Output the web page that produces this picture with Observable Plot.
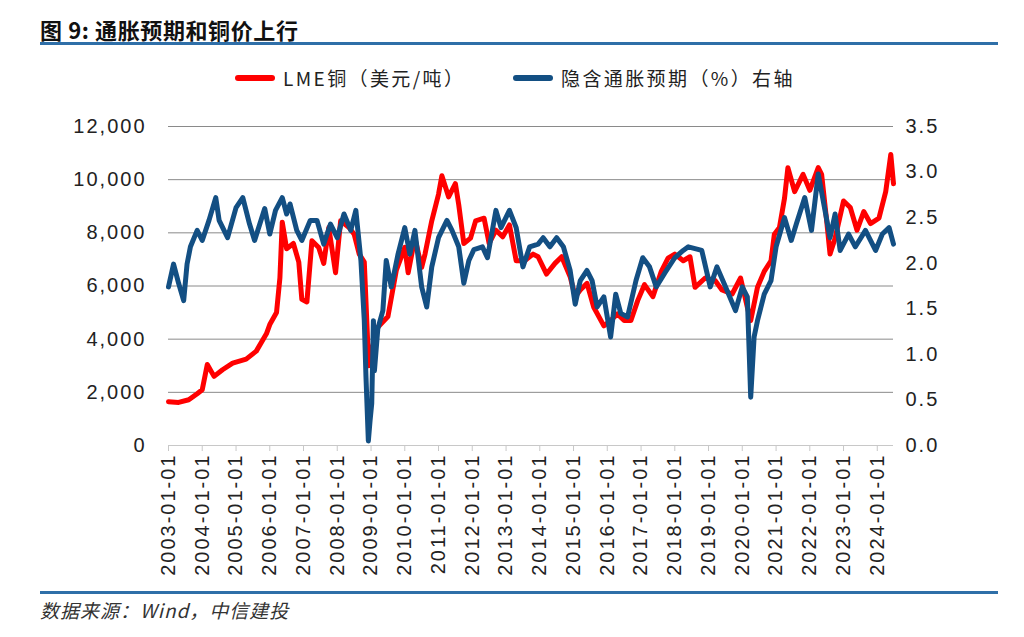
<!DOCTYPE html>
<html><head><meta charset="utf-8">
<script src="https://cdn.jsdelivr.net/npm/d3@7"></script>
<script src="https://cdn.jsdelivr.net/npm/@observablehq/plot@0.6"></script>
<style>
body{margin:0;background:#fff;width:1024px;height:637px;position:relative;overflow:hidden;font-family:"Noto Sans CJK SC","Liberation Sans",sans-serif;}
#title{position:absolute;left:40px;top:13px;font-size:22px;font-weight:700;color:#111;letter-spacing:0.6px;}
.rule{position:absolute;left:40px;width:958px;height:3px;background:#2f6fa8;}
.leg{position:absolute;top:64px;display:flex;align-items:center;font-size:19px;color:#222;white-space:nowrap;letter-spacing:2.4px;}
.sw{width:40px;height:6px;border-radius:3px;margin-right:8px;}
#chart{position:absolute;left:0;top:100px;}
#source{position:absolute;left:40px;top:596px;font-size:19px;font-style:italic;color:#333;letter-spacing:1px;}
#chart text{letter-spacing:2px;}
</style></head>
<body>
<div id="title">图 9: 通胀预期和铜价上行</div>
<div class="rule" style="top:42px"></div>
<div class="leg" style="left:235px"><div class="sw" style="background:#ff0000"></div><span>LME铜（美元/吨）</span></div>
<div class="leg" style="left:513px"><div class="sw" style="background:#134f83"></div><span>隐含通胀预期（%）右轴</span></div>
<div id="chart"></div>
<div class="rule" style="top:591px"></div>
<div id="source">数据来源：Wind，中信建投</div>
<script>
// [decimal year, USD/ton]
const copper = [
[2003.0,1650],[2003.3,1620],[2003.6,1720],[2003.85,1950],[2004.0,2100],[2004.15,3050],[2004.35,2600],[2004.6,2850],[2004.9,3100],
[2005.3,3250],[2005.6,3550],[2005.9,4200],[2006.0,4550],[2006.2,5000],[2006.3,6300],[2006.37,8400],[2006.5,7400],[2006.7,7600],
[2006.86,6900],[2006.95,5500],[2007.1,5400],[2007.25,7700],[2007.45,7450],[2007.6,6850],[2007.75,8200],[2007.95,6500],[2008.1,8450],
[2008.35,8200],[2008.5,7950],[2008.65,7200],[2008.8,6900],[2008.93,3000],[2009.0,3500],[2009.2,4450],[2009.5,4850],[2009.75,6600],
[2010.0,7450],[2010.1,6500],[2010.3,7800],[2010.5,6700],[2010.6,7200],[2010.8,8450],[2011.0,9450],[2011.1,10150],[2011.3,9350],
[2011.5,9850],[2011.6,9050],[2011.75,7600],[2011.95,7800],[2012.1,8450],[2012.35,8550],[2012.5,7600],[2012.7,8100],[2012.9,7850],
[2013.1,8300],[2013.3,6950],[2013.55,6950],[2013.8,7200],[2013.95,7100],[2014.2,6450],[2014.45,6850],[2014.65,7100],[2014.9,6350],
[2015.05,5600],[2015.2,5850],[2015.4,6100],[2015.6,5200],[2015.9,4500],[2016.1,4700],[2016.3,4950],[2016.5,4700],[2016.7,4700],
[2016.9,5450],[2017.1,6050],[2017.35,5600],[2017.6,6550],[2017.8,7050],[2018.0,7200],[2018.25,6950],[2018.45,7100],[2018.6,5950],
[2018.9,6300],[2019.2,6200],[2019.4,5850],[2019.7,5700],[2019.95,6300],[2020.15,5200],[2020.25,4700],[2020.45,5950],[2020.65,6550],
[2020.85,6950],[2020.95,7950],[2021.1,8200],[2021.25,9300],[2021.35,10450],[2021.55,9550],[2021.8,10200],[2022.0,9600],[2022.25,10450],
[2022.35,10200],[2022.5,8450],[2022.6,7200],[2022.75,7800],[2023.0,9200],[2023.2,8950],[2023.4,8100],[2023.6,8800],[2023.8,8350],
[2024.05,8550],[2024.25,9550],[2024.4,10950],[2024.48,9850]
];
// [decimal year, %]
const inflation = [
[2003.0,1.74],[2003.15,1.99],[2003.3,1.78],[2003.45,1.59],[2003.55,1.99],[2003.65,2.18],[2003.85,2.36],[2004.0,2.25],[2004.2,2.47],
[2004.4,2.72],[2004.5,2.47],[2004.75,2.28],[2005.0,2.61],[2005.2,2.72],[2005.4,2.43],[2005.55,2.25],[2005.85,2.60],[2006.0,2.32],
[2006.17,2.58],[2006.37,2.72],[2006.5,2.54],[2006.6,2.65],[2006.8,2.36],[2006.95,2.25],[2007.2,2.47],[2007.4,2.47],[2007.6,2.21],
[2007.8,2.43],[2008.0,2.28],[2008.2,2.54],[2008.4,2.36],[2008.55,2.58],[2008.7,2.03],[2008.8,1.37],[2008.85,0.75],[2008.92,0.05],
[2008.97,0.27],[2009.02,0.46],[2009.07,1.37],[2009.1,0.82],[2009.2,1.28],[2009.35,1.48],[2009.45,2.03],[2009.6,1.74],[2009.8,2.10],
[2010.0,2.39],[2010.15,2.10],[2010.3,2.36],[2010.5,1.74],[2010.65,1.52],[2010.8,1.96],[2011.0,2.28],[2011.25,2.47],[2011.4,2.36],
[2011.6,2.18],[2011.75,1.78],[2011.9,2.03],[2012.05,2.15],[2012.3,2.18],[2012.45,2.06],[2012.7,2.58],[2012.85,2.39],[2013.1,2.58],
[2013.3,2.39],[2013.5,1.96],[2013.7,2.18],[2013.95,2.21],[2014.1,2.28],[2014.3,2.18],[2014.5,2.28],[2014.7,2.18],[2014.9,1.92],
[2015.05,1.55],[2015.2,1.81],[2015.4,1.92],[2015.55,1.81],[2015.7,1.52],[2015.9,1.63],[2016.1,1.19],[2016.25,1.66],[2016.4,1.45],
[2016.6,1.41],[2016.85,1.81],[2017.05,2.06],[2017.25,1.96],[2017.45,1.74],[2017.7,1.89],[2018.0,2.06],[2018.25,2.14],[2018.4,2.18],
[2018.8,2.14],[2019.05,1.74],[2019.25,1.96],[2019.55,1.70],[2019.8,1.48],[2020.0,1.74],[2020.15,1.63],[2020.25,0.53],[2020.35,1.19],
[2020.45,1.37],[2020.65,1.66],[2020.85,1.81],[2021.0,2.18],[2021.25,2.50],[2021.45,2.25],[2021.6,2.43],[2021.85,2.72],[2022.05,2.36],
[2022.25,2.98],[2022.45,2.58],[2022.6,2.28],[2022.75,2.54],[2022.9,2.14],[2023.15,2.32],[2023.35,2.18],[2023.65,2.36],[2023.95,2.14],
[2024.15,2.32],[2024.35,2.39],[2024.48,2.21]
];
const leftTicks = [0, 2000, 4000, 6000, 8000, 10000, 12000];
const rightTicks = [0, 0.5, 1.0, 1.5, 2.0, 2.5, 3.0, 3.5];
const tickYears = d3.range(2003, 2025);

function yd(t){const y=Math.floor(t);const s=Date.UTC(y,0,1),e=Date.UTC(y+1,0,1);return new Date(s+(t-y)*(e-s));}
const K = 12000/3.5;
const chart = Plot.plot({
  width:1024, height:485,
  marginTop:26, marginBottom:140, marginLeft:168, marginRight:131,
  style:{fontFamily:"'Liberation Sans', Arial, sans-serif", fontSize:"20px", color:"#222", background:"transparent", overflow:"visible"},
  x:{type:"utc", domain:[yd(2003), yd(2024.48)]},
  y:{domain:[0,12000]},
  marks:[
    Plot.gridY(leftTicks.filter(d=>d>0), {stroke:"#8a8a8a", strokeOpacity:1}),
    Plot.axisY(leftTicks, {anchor:"left", tickSize:0, tickPadding:22, tickFormat:d3.format(","), label:null}),
    Plot.axisY(rightTicks.map(v=>v*K), {anchor:"right", tickSize:0, tickPadding:12, tickFormat:d=>(d/K).toFixed(1), label:null}),
    Plot.ruleY([0], {stroke:"#c8c8c8"}),
    Plot.axisX(tickYears.map(y=>new Date(Date.UTC(y,0,1))), {anchor:"bottom", tickSize:6, stroke:"#c8c8c8", fill:"#222", tickRotate:-90, tickPadding:2, tickFormat:d3.utcFormat("%Y-%m-%d"), label:null}),
    Plot.line(copper, {x:d=>yd(d[0]), y:d=>d[1], stroke:"#ff0000", strokeWidth:5, strokeLinejoin:"round"}),
    Plot.line(inflation, {x:d=>yd(d[0]), y:d=>d[1]*K, stroke:"#134f83", strokeWidth:5, strokeLinejoin:"round"})
  ]
});
document.getElementById("chart").appendChild(chart);
</script>
</body></html>
